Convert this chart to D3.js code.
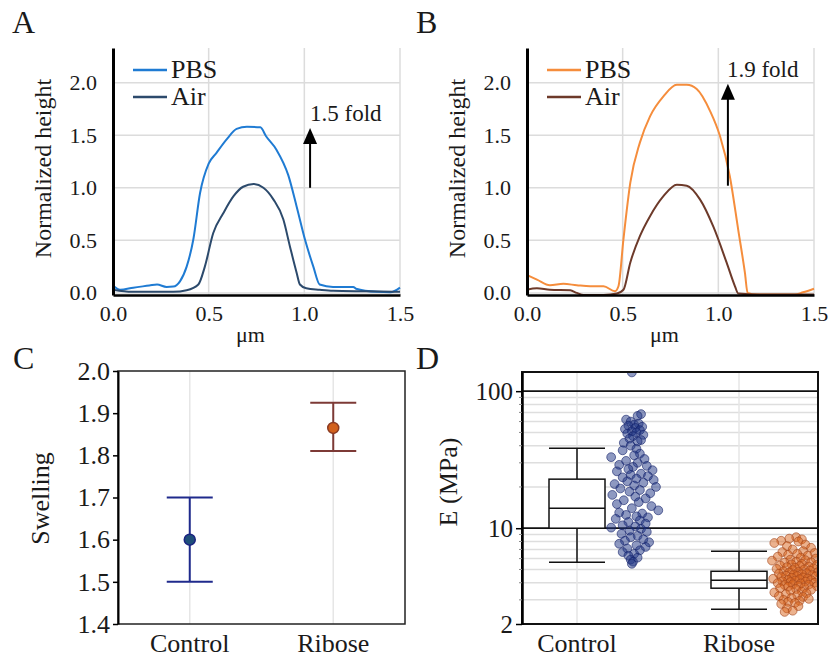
<!DOCTYPE html>
<html>
<head>
<meta charset="utf-8">
<script src="https://cdn.jsdelivr.net/npm/d3@7"></script>
<style>
  body { margin: 0; background: #fff; }
</style>
</head>
<body>
<div id="chart"></div>
<script>
// ---------------- data ----------------
// height profiles, [µm, normalized height]
var pbsA = [[0,0.07],[0.037,0.03],[0.106,0.05],[0.19,0.07],[0.23,0.08],[0.28,0.057],[0.315,0.06],[0.35,0.11],
  [0.385,0.25],[0.42,0.51],[0.455,0.95],[0.5,1.23],[0.54,1.33],[0.594,1.46],[0.646,1.56],[0.7,1.58],[0.77,1.575],
  [0.80,1.49],[0.855,1.36],[0.916,1.12],[0.96,0.82],[1.003,0.51],[1.047,0.25],[1.08,0.08],[1.15,0.057],
  [1.256,0.057],[1.27,0.04],[1.38,0.01],[1.45,0.006],[1.5,0.05]];
var airA = [[0,0.03],[0.1,0.01],[0.315,0.01],[0.385,0.025],[0.446,0.08],[0.48,0.25],[0.524,0.57],[0.577,0.76],
  [0.63,0.92],[0.68,1.01],[0.735,1.035],[0.786,1.0],[0.838,0.89],[0.89,0.70],[0.925,0.44],[0.96,0.19],
  [0.977,0.08],[1.01,0.044],[1.08,0.03],[1.15,0.02],[1.32,0.015],[1.5,0.01]];
var pbsB = [[0,0.17],[0.052,0.127],[0.12,0.073],[0.19,0.086],[0.26,0.073],[0.33,0.063],[0.4,0.063],[0.46,0.016],
  [0.478,0.063],[0.504,0.51],[0.54,1.05],[0.59,1.43],[0.643,1.68],[0.713,1.87],[0.783,1.98],[0.835,1.98],
  [0.887,1.94],[0.957,1.73],[1.009,1.49],[1.06,1.11],[1.104,0.60],[1.139,0.19],[1.153,0.0],[1.2,-0.015],
  [1.4,-0.015],[1.443,0.006],[1.5,0.04]];
var airB = [[0,0.03],[0.052,0.044],[0.12,0.03],[0.226,0.025],[0.26,0.0],[0.296,-0.02],[0.4,-0.02],[0.47,-0.006],
  [0.504,0.03],[0.54,0.29],[0.59,0.54],[0.643,0.73],[0.713,0.92],[0.783,1.03],[0.835,1.02],[0.904,0.89],
  [0.974,0.63],[1.043,0.29],[1.087,0.063],[1.104,-0.006],[1.217,-0.016],[1.5,-0.016]];

var seriesNames = ["PBS", "Air"];
var foldLabels = ["1.5 fold", "1.9 fold"];
var profileXTicks = [0, 0.5, 1.0, 1.5];
var profileYTicks = [0, 0.5, 1.0, 1.5, 2.0];

// swelling (panel C)
var groups = ["Control", "Ribose"];
var swellMean = [1.60, 1.865];
var swellLow = [1.50, 1.81];
var swellHigh = [1.70, 1.925];
var swellTicks = [1.4, 1.5, 1.6, 1.7, 1.8, 1.9, 2.0];

// modulus (panel D) box stats
var whiskerLow = [5.65, 2.56];
var q1 = [10.0, 3.65];
var median = [14.0, 4.17];
var q3 = [22.8, 4.85];
var whiskerHigh = [38.4, 6.8];
var modTicks = [2, 10, 100];

// individual measurements [E (MPa), horizontal jitter -1..1]
var controlE = [[137,-0.05],
  [68,0.35],[66,0.2],[62,-0.3],[60,-0.1],[58,0.25],[57,0.05],[56,-0.2],[55,0.4],[54,0.1],[53,-0.35],[52,0.3],
  [51,-0.05],[50,0.15],[49,-0.25],[48,0.45],[47,0.0],[45,-0.15],[44,0.35],[43,0.2],[42,-0.4],
  [40,-0.1],[38,0.15],[37,-0.45],[35,0.3],[34,0.05],[33,-0.95],[32,0.5],[31,-0.3],[30,0.2],[29,-0.6],[28.5,0.6],
  [28,0.0],[27,-0.2],[26.5,0.85],[26,-0.7],[25,0.35],[24.5,-0.1],[24,0.65],[23.5,-0.45],[23,0.15],[22.5,0.9],
  [22,-0.25],[21.5,0.45],[21,-0.8],[20.5,0.05],[20,1.0],[19.5,-0.55],[19,0.3],[18.5,-0.15],[18,0.75],[17.5,-0.9],
  [17,0.1],[16.5,0.55],[16,-0.4],[15.5,0.25],[15,-0.7],[14.5,0.8],[14,-0.05],[13.5,1.1],[13,-0.6],[12.8,0.4],
  [12.5,-0.3],[12.2,0.15],[12,0.65],[11.7,-0.75],[11.4,0.3],[11.1,-0.2],[10.8,0.55],[10.5,-0.45],[10.3,0.1],[10.1,-0.95],
  [9.9,0.35],[9.6,-0.15],[9.4,0.6],[9.1,-0.5],[8.8,0.2],[8.6,-0.1],[8.3,0.45],[8.1,-0.35],[7.9,0.7],[7.7,-0.6],
  [7.5,0.15],[7.3,0.55],[7.1,-0.25],[6.9,0.3],[6.7,-0.45],[6.5,0.05],[6.3,-0.2],[6.1,0.2],[5.9,-0.1],[5.7,0.0],[5.5,-0.05]];
var riboseE = [[8.6,0.05],[8.4,-0.25],[8.3,0.3],[8.1,-0.6],[8.0,0.15],[7.8,-0.9],[7.6,0.45],[7.4,-0.35],[7.2,0.7],
  [7.0,-0.1],[6.8,0.35],[6.7,-0.55],[6.6,0.85],[6.5,0.1],[6.4,-0.3],[6.3,0.55],[6.2,-0.75],[6.1,0.25],[6.0,0.9],
  [5.9,-0.2],[5.85,0.45],[5.8,-1.0],[5.7,0.05],[5.65,0.7],[5.6,-0.45],[5.5,0.3],[5.45,-0.15],[5.4,0.95],[5.35,-0.65],
  [5.3,0.2],[5.25,0.6],[5.2,-0.35],[5.15,0.0],[5.1,0.8],[5.05,-0.8],[5.0,0.4],[4.95,-0.1],[4.9,0.65],[4.85,-0.5],
  [4.8,0.15],[4.78,1.0],[4.75,-0.25],[4.7,0.5],[4.66,-0.7],[4.62,0.3],[4.6,-0.05],[4.55,0.75],[4.5,-0.4],[4.48,0.1],
  [4.45,0.9],[4.4,-0.6],[4.38,0.35],[4.35,-0.15],[4.3,0.55],[4.28,-0.95],[4.25,0.2],[4.2,-0.3],[4.18,0.7],[4.15,0.0],
  [4.1,-0.55],[4.08,0.45],[4.05,-0.2],[4.0,0.85],[3.98,-0.75],[3.95,0.25],[3.9,-0.1],[3.88,0.6],[3.85,-0.45],[3.8,0.15],
  [3.78,0.95],[3.75,-0.3],[3.7,0.4],[3.65,-0.65],[3.6,0.05],[3.55,0.7],[3.5,-0.2],[3.45,0.3],[3.4,-0.9],[3.35,0.5],
  [3.3,-0.4],[3.25,0.1],[3.2,-0.7],[3.15,0.35],[3.1,-0.15],[3.05,0.6],[3.0,-0.5],[2.95,0.2],[2.9,-0.3],[2.85,0.0],
  [2.8,-0.6],[2.7,0.15],[2.6,-0.35],[2.5,-0.1],[2.45,-0.45]];

// ---------------- drawing ----------------
var FONT = "Liberation Serif";

var svg = d3.select("#chart").append("svg")
  .attr("width", 833).attr("height", 658);

// every text gets the serif face (axis groups force sans-serif otherwise)
function serif(sel, size) {
  return sel.attr("font-family", FONT)
    .style("font-family", "'" + FONT + "'").style("font-size", size + "px").style("fill", "#1a1a1a");
}

function panelLetter(txt, x, y) {
  serif(svg.append("text").attr("x", x).attr("y", y), 32).text(txt);
}

// profile panels (A, B)
function drawProfile(id, left, data, colors, fold, arrow) {
  var w = 287, h = 247, top = 48;
  var g = svg.append("g").attr("transform", "translate(" + left + "," + top + ")");
  var x = d3.scaleLinear().domain([0, 1.5]).range([0, w]);
  var y = d3.scaleLinear().domain([-0.02, 2.33]).range([h, 0]);

  // grid
  g.selectAll(".hg").data(profileYTicks).enter().append("line")
    .attr("x1", 0).attr("x2", w)
    .attr("y1", d => y(d)).attr("y2", d => y(d))
    .attr("stroke", "#dcdcdc").attr("stroke-width", 1.5);
  g.selectAll(".vg").data(profileXTicks.slice(1)).enter().append("line")
    .attr("x1", d => x(d)).attr("x2", d => x(d))
    .attr("y1", 0).attr("y2", h)
    .attr("stroke", "#dcdcdc").attr("stroke-width", 1.5);

  g.append("clipPath").attr("id", "clip" + id)
    .append("rect").attr("width", w + 2).attr("height", h);

  var line = d3.line().x(d => x(d[0])).y(d => y(d[1])).curve(d3.curveMonotoneX);
  data.forEach(function (s, i) {
    g.append("path").datum(s)
      .attr("clip-path", "url(#clip" + id + ")")
      .attr("d", line)
      .attr("fill", "none")
      .attr("stroke", colors[i])
      .attr("stroke-width", 2);
  });

  // axes
  var ax = g.append("g").call(d3.axisLeft(y).tickValues(profileYTicks)
      .tickFormat(d3.format(".1f")).tickSize(0).tickSizeOuter(0).tickPadding(16));
  ax.attr("font-family", FONT);
  ax.select(".domain").attr("stroke", "#000").attr("stroke-width", 3);
  serif(ax.selectAll("text"), 22);

  var bx = g.append("g").attr("transform", "translate(0," + h + ")")
    .call(d3.axisBottom(x).tickValues(profileXTicks)
      .tickFormat(d3.format(".1f")).tickSize(0).tickSizeOuter(0).tickPadding(10));
  bx.attr("font-family", FONT);
  bx.select(".domain").attr("stroke", "#000").attr("stroke-width", 2.5);
  serif(bx.selectAll("text"), 22);

  serif(g.append("text").attr("x", w / 2 - 6).attr("y", h + 47)
    .attr("text-anchor", "middle"), 22).text("μm");
  serif(g.append("text")
    .attr("transform", "translate(" + (-70) + "," + (h / 2 - 3) + ") rotate(-90)")
    .attr("text-anchor", "middle").attr("dominant-baseline", "central"), 24).text("Normalized height");

  // legend
  seriesNames.forEach(function (name, i) {
    var ly = 22 + i * 27;
    g.append("line").attr("x1", 20).attr("x2", 54).attr("y1", ly).attr("y2", ly)
      .attr("stroke", colors[i]).attr("stroke-width", 2.5);
    serif(g.append("text").attr("x", 58).attr("y", ly + 8), 26).text(name);
  });

  // fold arrow
  var ax0 = x(arrow.x), yb = y(arrow.y0), yt = y(arrow.y1);
  g.append("line").attr("x1", ax0).attr("x2", ax0).attr("y1", yb).attr("y2", yt + 14)
    .attr("stroke", "#000").attr("stroke-width", 2);
  g.append("path")
    .attr("d", "M" + ax0 + "," + yt + "L" + (ax0 - 7) + "," + (yt + 16) + "L" + (ax0 + 7) + "," + (yt + 16) + "Z")
    .attr("fill", "#000");
  serif(g.append("text").attr("x", x(arrow.tx)).attr("y", y(arrow.ty)), 23).text(fold);
}

drawProfile("A", 113, [pbsA, airA], ["#1f7bd3", "#2c4a6c"], foldLabels[0],
  {x: 1.03, y0: 1.0, y1: 1.57, tx: 1.03, ty: 1.64});
drawProfile("B", 527, [pbsB, airB], ["#f58d3c", "#6d3a2a"], foldLabels[1],
  {x: 1.05, y0: 1.02, y1: 1.99, tx: 1.045, ty: 2.05});

panelLetter("A", 12, 33);
panelLetter("B", 416, 33);

// panel C: swelling
(function () {
  var left = 118, top = 371, w = 287, h = 253;
  var g = svg.append("g").attr("transform", "translate(" + left + "," + top + ")");
  var x = d3.scalePoint().domain(groups).range([0, w]).padding(0.5);
  var y = d3.scaleLinear().domain([1.4, 2.0]).range([h, 0]);
  var lineCol = ["#1f2a8c", "#7d3a36"];
  var dotCol = ["#1f4f7a", "#d2601c"];
  var dotStroke = ["#1a2380", "#8a3a22"];

  g.selectAll(".vg").data(groups).enter().append("line")
    .attr("x1", d => x(d)).attr("x2", d => x(d)).attr("y1", 0).attr("y2", h)
    .attr("stroke", "#e6e6e6").attr("stroke-width", 1.5);

  groups.forEach(function (gname, i) {
    var cx = x(gname), cap = 23;
    g.append("line").attr("x1", cx).attr("x2", cx)
      .attr("y1", y(swellLow[i])).attr("y2", y(swellHigh[i]))
      .attr("stroke", lineCol[i]).attr("stroke-width", 2);
    [swellLow[i], swellHigh[i]].forEach(function (v) {
      g.append("line").attr("x1", cx - cap).attr("x2", cx + cap)
        .attr("y1", y(v)).attr("y2", y(v))
        .attr("stroke", lineCol[i]).attr("stroke-width", 2);
    });
    g.append("circle").attr("cx", cx).attr("cy", y(swellMean[i])).attr("r", 5.5)
      .attr("fill", dotCol[i]).attr("stroke", dotStroke[i]).attr("stroke-width", 1.5);
  });

  g.append("rect").attr("width", w).attr("height", h)
    .attr("fill", "none").attr("stroke", "#222").attr("stroke-width", 1.5);

  var ax = g.append("g").call(d3.axisLeft(y).tickValues(swellTicks)
    .tickFormat(d3.format(".1f")).tickSize(5).tickSizeOuter(0).tickPadding(3));
  ax.attr("font-family", FONT);
  ax.select(".domain").attr("stroke", "#000").attr("stroke-width", 2);
  ax.selectAll(".tick line").attr("stroke", "#000").attr("stroke-width", 1.5);
  serif(ax.selectAll("text"), 26);

  serif(g.selectAll(".cl").data(groups).enter().append("text")
    .attr("x", d => x(d)).attr("y", h + 28)
    .attr("text-anchor", "middle"), 26).text(d => d);

  serif(g.append("text")
    .attr("transform", "translate(" + (-78) + "," + (h / 2 + 1) + ") rotate(-90)")
    .attr("text-anchor", "middle").attr("dominant-baseline", "central"), 26).text("Swelling");
})();

// panel D: modulus
(function () {
  var left = 522, top = 372, w = 296, h = 252;
  var g = svg.append("g").attr("transform", "translate(" + left + "," + top + ")");
  var x = d3.scalePoint().domain(groups).range([55, 217]);
  var y = d3.scaleLog().domain([2, 138]).range([h, 0]);
  var minor = [3, 4, 5, 6, 7, 8, 9, 20, 30, 40, 50, 60, 70, 80, 90];
  var boxW = 56, jitterOff = 56, jitterW = 23;

  g.selectAll(".mg").data(minor).enter().append("line")
    .attr("x1", 0).attr("x2", w).attr("y1", d => y(d)).attr("y2", d => y(d))
    .attr("stroke", "#dedede").attr("stroke-width", 1.5);
  g.selectAll(".vg").data(groups).enter().append("line")
    .attr("x1", d => x(d)).attr("x2", d => x(d)).attr("y1", 0).attr("y2", h)
    .attr("stroke", "#e6e6e6").attr("stroke-width", 1.5);
  g.selectAll(".Mg").data([10, 100]).enter().append("line")
    .attr("x1", 0).attr("x2", w).attr("y1", d => y(d)).attr("y2", d => y(d))
    .attr("stroke", "#111").attr("stroke-width", 1.8);

  // boxes
  groups.forEach(function (gname, i) {
    var cx = x(gname);
    var bg = g.append("g").attr("stroke", "#111").attr("stroke-width", 1.5);
    bg.append("line").attr("x1", cx).attr("x2", cx)
      .attr("y1", y(whiskerLow[i])).attr("y2", y(q1[i]));
    bg.append("line").attr("x1", cx).attr("x2", cx)
      .attr("y1", y(q3[i])).attr("y2", y(whiskerHigh[i]));
    [whiskerLow[i], whiskerHigh[i]].forEach(function (v) {
      bg.append("line").attr("x1", cx - boxW / 2).attr("x2", cx + boxW / 2)
        .attr("y1", y(v)).attr("y2", y(v));
    });
    bg.append("rect").attr("x", cx - boxW / 2).attr("y", y(q3[i]))
      .attr("width", boxW).attr("height", y(q1[i]) - y(q3[i]))
      .attr("fill", "#fff");
    bg.append("line").attr("x1", cx - boxW / 2).attr("x2", cx + boxW / 2)
      .attr("y1", y(median[i])).attr("y2", y(median[i]));
  });

  g.append("clipPath").attr("id", "clipD")
    .append("rect").attr("width", w).attr("height", h);

  var pts = [controlE, riboseE];
  var fills = ["#1d3384", "#d9661e"];
  var strokes = ["#15236a", "#a2451a"];
  pts.forEach(function (arr, i) {
    g.append("g").attr("clip-path", "url(#clipD)")
      .selectAll("circle").data(arr).enter().append("circle")
      .attr("cx", d => x(groups[i]) + jitterOff + d[1] * jitterW)
      .attr("cy", d => y(d[0]))
      .attr("r", 4.4)
      .attr("fill", fills[i]).attr("fill-opacity", 0.5)
      .attr("stroke", strokes[i]).attr("stroke-opacity", 0.6).attr("stroke-width", 1);
  });

  g.append("rect").attr("width", w).attr("height", h)
    .attr("fill", "none").attr("stroke", "#111").attr("stroke-width", 2);

  var ax = g.append("g").call(d3.axisLeft(y).tickValues(modTicks)
    .tickFormat(d3.format("d")).tickSize(6).tickSizeOuter(0).tickPadding(3));
  ax.attr("font-family", FONT);
  ax.select(".domain").attr("stroke", "#000").attr("stroke-width", 2.5);
  ax.selectAll(".tick line").attr("stroke", "#000").attr("stroke-width", 1.5);
  serif(ax.selectAll("text"), 25);
  g.selectAll(".mt").data(minor).enter().append("line")
    .attr("x1", -3).attr("x2", 0).attr("y1", d => y(d)).attr("y2", d => y(d))
    .attr("stroke", "#888").attr("stroke-width", 1);

  serif(g.selectAll(".cl").data(groups).enter().append("text")
    .attr("x", d => x(d)).attr("y", h + 28)
    .attr("text-anchor", "middle"), 26).text(d => d);

  serif(g.append("text")
    .attr("transform", "translate(" + (-74) + "," + (h / 2 - 16) + ") rotate(-90)")
    .attr("text-anchor", "middle").attr("dominant-baseline", "central"), 26).text("E (MPa)");
})();

panelLetter("C", 13, 369);
panelLetter("D", 416, 369);
</script>
</body>
</html>
